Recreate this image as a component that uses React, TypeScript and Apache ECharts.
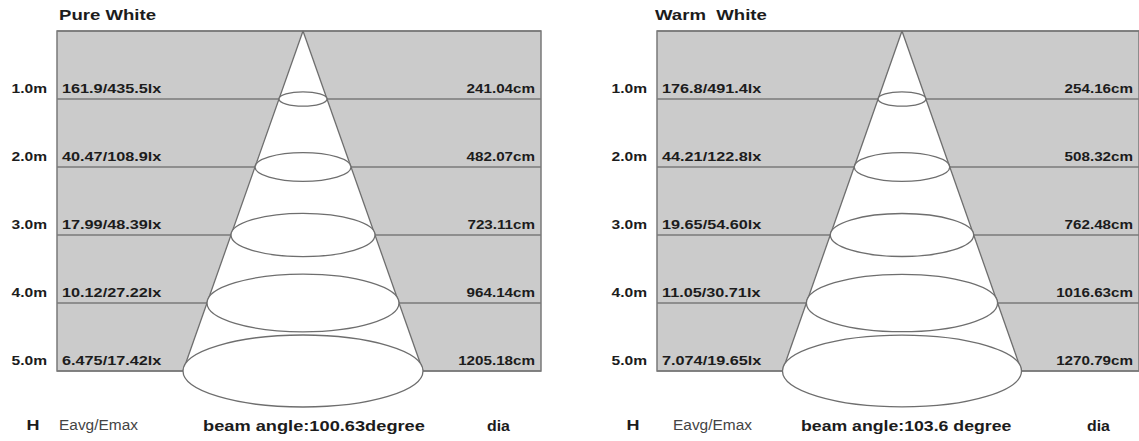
import React, { useEffect, useRef } from "react";
import * as echarts from "echarts";

// ---- data ----
const heights = [1, 2, 3, 4, 5];
const heightLabels = ["1.0m", "2.0m", "3.0m", "4.0m", "5.0m"];
const pureLux = ["161.9/435.5lx", "40.47/108.9lx", "17.99/48.39lx", "10.12/27.22lx", "6.475/17.42lx"];
const pureDia = [241.04, 482.07, 723.11, 964.14, 1205.18];
const warmLux = ["176.8/491.4lx", "44.21/122.8lx", "19.65/54.60lx", "11.05/30.71lx", "7.074/19.65lx"];
const warmDia = [254.16, 508.32, 762.48, 1016.63, 1270.79];
const panelTitles = ["Pure White", "Warm  White"];
const beamAngleTexts = ["beam angle:100.63degree", "beam angle:103.6 degree"];
const footerH = "H";
const footerE = "Eavg/Emax";
const footerDia = "dia";

// ---- layout ----
const FONT = "'Liberation Sans', Arial, sans-serif";
const GRID_TOP = 31;
const GRID_W = 484;
const GRID_H = 340;
const APEX_OFFSET = 246; // px from grid left to apex
const CONE_HALF_PX = 120; // px half width of cone at bottom
const TEXT_COLOR = "#1c1c1c";
const LINE_COLOR = "#7a7a7a";

const panels = [
  { title: panelTitles[0], lux: pureLux, dia: pureDia, beam: beamAngleTexts[0], left: 57, titleX: 59, eX: 59, beamX: 203, beamScale: 1.216, diaX: 487 },
  { title: panelTitles[1], lux: warmLux, dia: warmDia, beam: beamAngleTexts[1], left: 657, titleX: 655, eX: 673, beamX: 801, beamScale: 1.18, diaX: 1087 },
];

function buildOption(): any {
  const hMax = heights[heights.length - 1];
  const grid = panels.map((p) => ({
    left: p.left,
    top: GRID_TOP,
    width: GRID_W,
    height: GRID_H,
    show: true,
    backgroundColor: "#cbcbcb",
    borderColor: LINE_COLOR,
    borderWidth: 1.5,
  }));
  const xRanges = panels.map((p) => {
    const r5 = p.dia[p.dia.length - 1] / 2;
    return {
      min: (-r5 * APEX_OFFSET) / CONE_HALF_PX,
      max: (r5 * (GRID_W - APEX_OFFSET)) / CONE_HALF_PX,
    };
  });
  const xAxis = panels.map((p, i) => ({
    type: "value",
    gridIndex: i,
    min: xRanges[i].min,
    max: xRanges[i].max,
    show: false,
  }));
  const yAxis = panels.map((p, i) => ({
    type: "value",
    gridIndex: i,
    min: 0,
    max: hMax,
    interval: 1,
    inverse: true,
    axisLine: { show: false },
    axisTick: { show: false },
    axisLabel: { show: false },
    splitLine: { show: true, lineStyle: { color: LINE_COLOR, width: 1.5 } },
  }));

  const series: any[] = [];
  panels.forEach((p, i) => {
    const r5 = p.dia[p.dia.length - 1] / 2;
    series.push({
      type: "custom",
      xAxisIndex: i,
      yAxisIndex: i,
      clip: false,
      silent: true,
      data: [[r5, hMax]],
      renderItem: (params: any, api: any) => {
        const r = api.value(0);
        const h = api.value(1);
        const a = api.coord([0, 0]);
        const l = api.coord([-r, h]);
        const rr = api.coord([r, h]);
        return {
          type: "group",
          children: [
            { type: "polygon", shape: { points: [a, l, rr] }, style: { fill: "#ffffff", stroke: null } },
            { type: "polyline", shape: { points: [a, l] }, style: { fill: null, stroke: "#6e6e6e", lineWidth: 1.3 } },
            { type: "polyline", shape: { points: [a, rr] }, style: { fill: null, stroke: "#6e6e6e", lineWidth: 1.3 } },
          ],
        };
      },
    });
    series.push({
      type: "custom",
      xAxisIndex: i,
      yAxisIndex: i,
      clip: false,
      silent: true,
      data: heights.map((h, k) => [p.dia[k] / 2, h]),
      renderItem: (params: any, api: any) => {
        const k = params.dataIndex;
        const r = api.value(0);
        const h = api.value(1);
        const c = api.coord([0, h]);
        const e = api.coord([r, h]);
        const rx = e[0] - c[0];
        const ry = rx * 0.3;
        const lp = api.coord([xRanges[i].min, h]);
        const rp = api.coord([xRanges[i].max, h]);
        const txt = (text: string, x: number, y: number, align: string, scaleX: number) => ({
          type: "text",
          x,
          y,
          scaleX,
          style: {
            text,
            x: 0,
            y: 0,
            align,
            verticalAlign: "middle",
            fontSize: 13,
            fontWeight: "bold",
            fontFamily: FONT,
            fill: TEXT_COLOR,
          },
        });
        return {
          type: "group",
          children: [
            {
              type: "ellipse",
              shape: { cx: c[0], cy: c[1], rx, ry },
              style: { fill: "#ffffff", stroke: "#6e6e6e", lineWidth: 1.3 },
            },
            txt(heightLabels[k], lp[0] - 10, lp[1] - 10.5, "right", 1.2),
            txt(p.lux[k], lp[0] + 5, lp[1] - 10.5, "left", 1.25),
            txt(p.dia[k].toFixed(2) + "cm", rp[0] - 6, rp[1] - 10.5, "right", 1.17),
          ],
        };
      },
    });
  });

  const gText = (text: string, x: number, y: number, opts: any) => ({
    type: "text",
    x,
    y,
    scaleX: opts.scaleX ?? 1,
    silent: true,
    style: {
      text,
      x: 0,
      y: 0,
      align: opts.align ?? "left",
      verticalAlign: "middle",
      fontSize: opts.fontSize ?? 15,
      fontWeight: opts.fontWeight ?? "bold",
      fontFamily: FONT,
      fill: opts.fill ?? TEXT_COLOR,
    },
  });

  const elements: any[] = [];
  panels.forEach((p, i) => {
    elements.push(gText(p.title, p.titleX, 15, { scaleX: 1.24 }));
    elements.push(gText(footerH, p.left - 24, 425, { align: "center", scaleX: 1.2 }));
    elements.push(gText(footerE, p.eX, 425, { fontWeight: "normal", fill: "#444444", scaleX: 1.03 }));
    elements.push(gText(p.beam, p.beamX, 426, { scaleX: p.beamScale }));
    elements.push(gText(footerDia, p.diaX, 426, { scaleX: 1.06 }));
  });

  return {
    animation: false,
    backgroundColor: "#ffffff",
    grid,
    xAxis,
    yAxis,
    series,
    graphic: { elements },
  };
}

export default function App() {
  const ref = useRef<HTMLDivElement>(null);
  useEffect(() => {
    const chart = echarts.init(ref.current as HTMLDivElement, null, { renderer: "svg" });
    chart.setOption(buildOption());
    return () => chart.dispose();
  }, []);
  return (
    <div
      ref={ref}
      style={{ position: "fixed", left: 0, top: 0, width: 1139, height: 441 }}
    />
  );
}
